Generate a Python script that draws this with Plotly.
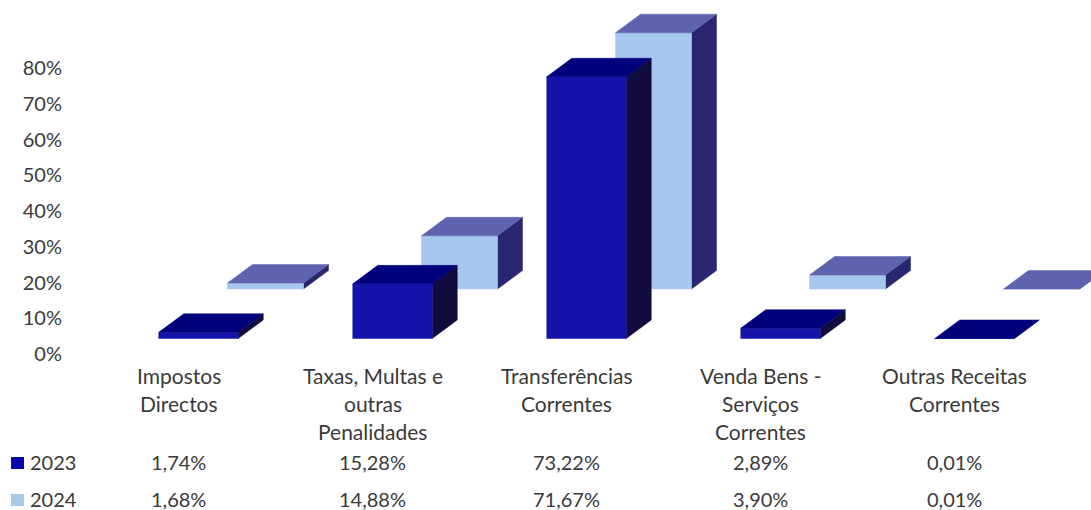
import plotly.graph_objects as go

categories = ["Impostos<br>Directos", "Taxas, Multas e<br>outras<br>Penalidades",
              "Transferências<br>Correntes", "Venda Bens -<br>Serviços<br>Correntes",
              "Outras Receitas<br>Correntes"]
series_names = ["2023", "2024"]
values_2023 = [1.74, 15.28, 73.22, 2.89, 0.01]
values_2024 = [1.68, 14.88, 71.67, 3.90, 0.01]
labels_2023 = ["1,74%", "15,28%", "73,22%", "2,89%", "0,01%"]
labels_2024 = ["1,68%", "14,88%", "71,67%", "3,90%", "0,01%"]
y_ticks = [0, 10, 20, 30, 40, 50, 60, 70, 80]

W, H = 1091, 510
LEFT = 63
PX_PER_CAT = 194.0
PX_PER_PCT = 3.575
Y0_PX = 354.0
CAT0_PX = 198.5

FONT = "Lato"
TXT = "#3a3a3a"
FS = 20
FS_CAT = 21

def dx(px): return px / PX_PER_CAT
def dy(px): return px / PX_PER_PCT

series = [
    dict(vals=values_2024, off=dx(67), base=dy(65), width=dx(76),
         front="#a6c8ee", top="#5f62ae", side="#29256f"),
    dict(vals=values_2023, off=0.0, base=dy(15.5), width=dx(79.5),
         front="#1414aa", top="#00007c", side="#120b3e"),
]
DEPTH_X, DEPTH_Y = dx(25), dy(18.5)

fig = go.Figure()

def poly(xs, ys, color):
    fig.add_trace(go.Scatter(x=xs + xs[:1], y=ys + ys[:1], mode="lines", fill="toself",
                             fillcolor=color, line=dict(color=color, width=0.5),
                             hoverinfo="skip", showlegend=False))

for s in series:
    for i, v in enumerate(s["vals"]):
        xl = i + s["off"] - s["width"] / 2
        xr = i + s["off"] + s["width"] / 2
        b = s["base"]
        t = b + v
        poly([xr, xr + DEPTH_X, xr + DEPTH_X, xr], [b, b + DEPTH_Y, t + DEPTH_Y, t], s["side"])
        poly([xl, xr, xr, xl], [b, b, t, t], s["front"])
        poly([xl, xr, xr + DEPTH_X, xl + DEPTH_X], [t, t, t + DEPTH_Y, t + DEPTH_Y], s["top"])

x_of_label = lambda i: i - dx(20)
annotations = []

def note(x, y_px, text, xref="x", anchor="center", size=FS):
    annotations.append(dict(x=x, y=1 - y_px / H, xref=xref, yref="paper", text=text,
                            showarrow=False, xanchor=anchor, yanchor="middle",
                            font=dict(family=FONT, size=size, color=TXT)))

for i, c in enumerate(categories):
    for j, line in enumerate(c.split("<br>")):
        note(x_of_label(i), 375.5 + 28 * j, line, size=FS_CAT)
    note(x_of_label(i), 462, labels_2023[i])
    note(x_of_label(i), 499, labels_2024[i])

plot_w = W - LEFT
for name, y_px in zip(series_names, [462, 499]):
    note((28 - LEFT) / plot_w, y_px, name, xref="paper", anchor="left")

shapes = [
    dict(type="rect", xref="paper", yref="paper", layer="above", line=dict(width=0), fillcolor=col,
         x0=(11 - LEFT) / plot_w, x1=(24 - LEFT) / plot_w,
         y0=1 - (y_px + 6) / H, y1=1 - (y_px - 6) / H)
    for y_px, col in zip([463, 500], ["#0606ac", "#a9c9e8"])
]

fig.update_layout(
    width=W, height=H, margin=dict(l=LEFT, r=0, t=0, b=0, pad=0, autoexpand=False),
    paper_bgcolor="white", plot_bgcolor="white", showlegend=False,
    annotations=annotations, shapes=shapes,
    xaxis=dict(visible=False, range=[(LEFT - CAT0_PX) / PX_PER_CAT, (W - CAT0_PX) / PX_PER_CAT]),
    yaxis=dict(range=[(Y0_PX - H) / PX_PER_PCT, Y0_PX / PX_PER_PCT], tickvals=y_ticks,
               ticktext=[f"{t}%" for t in y_ticks], showgrid=False, zeroline=False,
               showline=False, ticks="", tickfont=dict(family=FONT, size=FS, color=TXT)),
)
fig.write_html("out.html", config=dict(displayModeBar=False),
               post_script="document.body.style.margin='0';document.documentElement.style.overflow='hidden';")
